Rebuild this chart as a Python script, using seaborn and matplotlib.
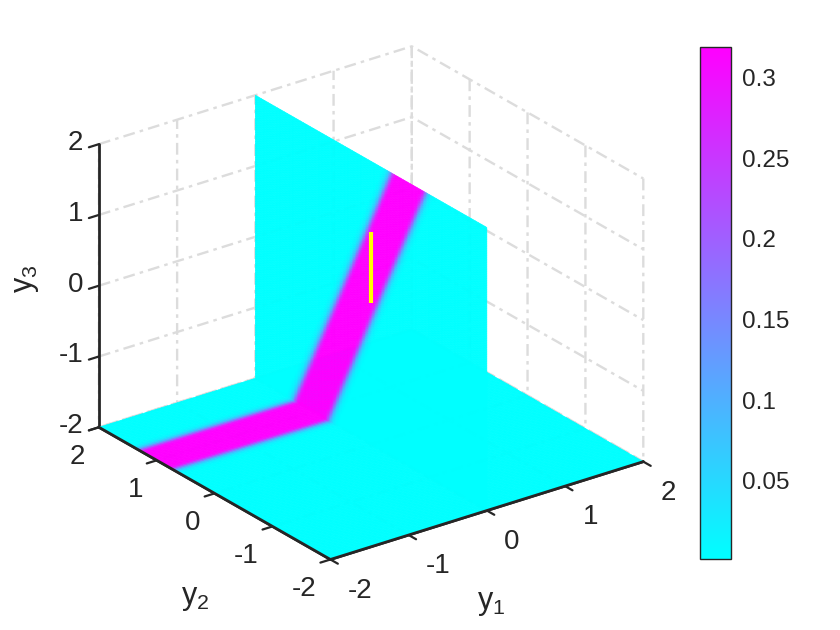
import numpy as np
import matplotlib
matplotlib.use("Agg")
import matplotlib.pyplot as plt
import seaborn as sns

# values
ticks_3d = [-2, -1, 0, 1, 2]
cbar_ticks = [0.05, 0.1, 0.15, 0.2, 0.25, 0.3]
cbar_labels = ["0.05", "0.1", "0.15", "0.2", "0.25", "0.3"]
vmin, vmax = 0.0016, 0.319

# band centre on the y1=0 wall (y2 against y3) and on the floor
wall_z = [-2, 2]
wall_center_y2 = [1.01, -0.67]
floor_center_y2 = 1.0
# density against distance from the band centre
band_dist = [0.0, 0.21, 0.25, 0.29, 0.33, 0.38, 0.44]
band_density = [0.319, 0.319, 0.29, 0.19, 0.08, 0.02, 0.0016]

seg_y1 = [0, 0]
seg_y2 = [0, 0]
seg_y3 = [0, 1]

sns.set_theme(style="white", font="Liberation Sans")
plt.rcParams["mathtext.default"] = "regular"
plt.rcParams["axes.unicode_minus"] = False
cmap = sns.blend_palette(["#00ffff", "#ff00ff"], as_cmap=True)
norm = plt.Normalize(vmin, vmax)
dark = "#262626"

fig = plt.figure(figsize=(8.4, 6.3), dpi=100)
ax = fig.add_axes([63 / 840, (630 - 611) / 630, 600 / 840, 600 / 630], projection="3d")
ax.computed_zorder = False
ax.set_proj_type("ortho")
ax.view_init(elev=25, azim=-126.5)
ax.set_box_aspect((390, 390, 313), zoom=1.024)

grid = np.linspace(-2, 2, 161)

# floor, band only on the y1<0 half
fx, fy = np.meshgrid(grid, grid)
floor = np.interp(np.abs(fy - floor_center_y2), band_dist, band_density)
floor[fx > 0] = vmin
ax.plot_surface(fx, fy, np.full_like(fx, -2.0), facecolors=cmap(norm(floor)),
                rstride=1, cstride=1, shade=False, antialiased=True, linewidth=0.4, zorder=2)

# wall at y1=0
wy, wz = np.meshgrid(grid, grid)
center = np.interp(wz, wall_z, wall_center_y2)
wall = np.interp(np.abs(wy - center), band_dist, band_density)
ax.plot_surface(np.zeros_like(wy), wy, wz, facecolors=cmap(norm(wall)),
                rstride=1, cstride=1, shade=False, antialiased=True, linewidth=0.4, zorder=3)

ax.plot(seg_y1, seg_y2, seg_y3, color="#ffff00", lw=3, zorder=4, solid_capstyle="butt")

# axis lines again, the surfaces cover half of the native ones
ax.plot([-2, 2], [-2, -2], [-2, -2], color=dark, lw=2, zorder=5)
ax.plot([-2, -2], [-2, 2], [-2, -2], color=dark, lw=2, zorder=5)

ax.set_xlim(-2, 2)
ax.set_ylim(-2, 2)
ax.set_zlim(-2, 2)
ax.set_xticks(ticks_3d)
ax.set_yticks(ticks_3d)
ax.set_zticks(ticks_3d)
ax.tick_params(labelsize=20, colors=dark)
ax.tick_params(axis="x", pad=9)
ax.tick_params(axis="y", pad=2)
ax.tick_params(axis="z", pad=-1.5)
for lab in ax.get_xticklabels():
    lab.set_ha("left")
    lab.set_va("center")
for lab in ax.get_yticklabels():
    lab.set_ha("right")
for lab in ax.get_zticklabels():
    lab.set_ha("right")
    lab.set_va("center")

for axis in (ax.xaxis, ax.yaxis, ax.zaxis):
    axis.set_pane_color((1, 1, 1, 0))
    axis.pane.set_edgecolor((1, 1, 1, 0))
    axis.line.set_color(dark)
    axis.line.set_linewidth(2)
    axis._axinfo["grid"].update(color="#dcdcdc", linestyle=(0, (5, 2.2, 1.5, 2.2)), linewidth=1.7)
    axis._axinfo["tick"].update(inward_factor=0.4, outward_factor=0.0, linewidth={True: 1.6, False: 1.0})

fig.text(491 / 840, 1 - 603 / 630, "$y_1$", fontsize=22, color=dark, ha="center", va="center")
fig.text(195 / 840, 1 - 598 / 630, "$y_2$", fontsize=22, color=dark, ha="center", va="center")
fig.text(26 / 840, 1 - 279 / 630, "$y_3$", fontsize=22, color=dark, ha="center", va="center", rotation=90)

cax = fig.add_axes([700 / 840, (630 - 559) / 630, 31 / 840, 512 / 630])
sm = plt.cm.ScalarMappable(norm=norm, cmap=cmap)
cb = fig.colorbar(sm, cax=cax)
cb.set_ticks(cbar_ticks, labels=cbar_labels)
cb.ax.tick_params(direction="in", length=5, width=1, labelsize=17.5, pad=8, colors=dark, right=True)
cb.outline.set_linewidth(1)
cb.outline.set_edgecolor(dark)

fig.savefig("out.png", dpi=100)
